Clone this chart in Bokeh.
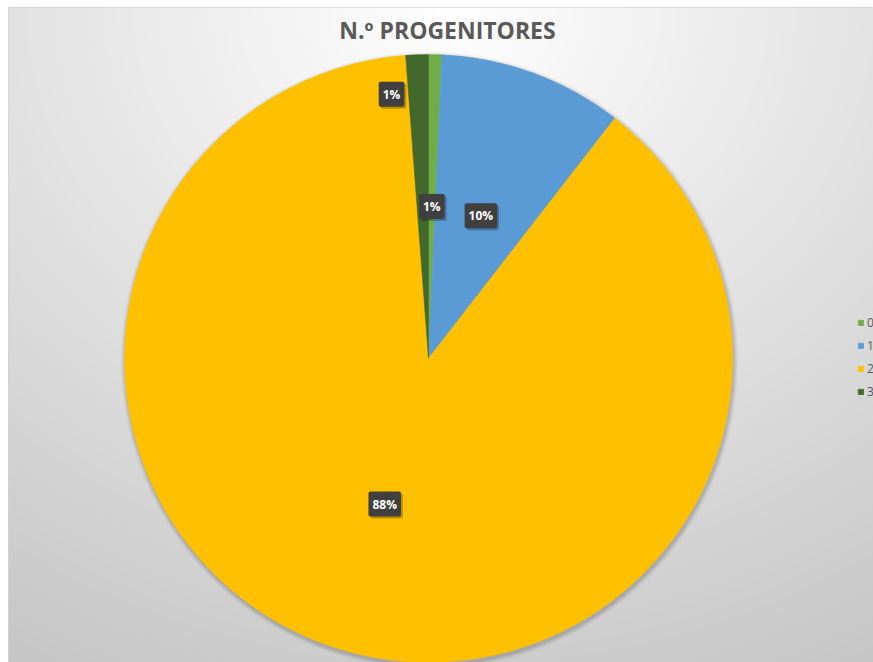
import numpy as np
from bokeh.plotting import figure
from bokeh.models import ColumnDataSource, Legend, LegendItem, Range1d
from bokeh.core.properties import value
from bokeh.embed import file_html
from bokeh.resources import INLINE

# ---- data ----
title = "N.º PROGENITORES"
categories = ["0", "1", "2", "3"]
shares = [0.7, 9.8, 88.3, 1.2]
colors = ["#70AD47", "#5B9BD5", "#FFC000", "#43682B"]

# ---- label placement (style) ----
label_r = [0.5, 0.5, 0.5, 0.87]
label_dx = [0, 0, 0, -27]

FW, FH = 865, 655          # frame (chart area) size
cx, cy, R = 420, 304, 304

p = figure(width=873, height=662, x_range=Range1d(0, FW), y_range=Range1d(0, FH),
           output_backend="svg", toolbar_location=None,
           min_border_left=8, min_border_top=7, min_border_right=0, min_border_bottom=0)
p.axis.visible = False
p.grid.visible = False
p.outline_line_color = "#d4d4d4"
p.background_fill_color = "#e0e0e0"
p.border_fill_color = "white"

# background gradient (decorative)
jj, ii = np.mgrid[0:FH, 0:FW]
sx = ii + 0.5
sy = FH - (jj + 0.5)
d = np.sqrt((0.066 * (sx - 442)) ** 2 + (0.076 * sy) ** 2)
g = np.clip(255 - d, 198, 255).astype(np.uint8)
img = np.empty((FH, FW), dtype=np.uint32)
view = img.view(dtype=np.uint8).reshape((FH, FW, 4))
view[..., 0] = g
view[..., 1] = g
view[..., 2] = g
view[..., 3] = 255
p.image_rgba(image=[img], x=0, y=0, dw=FW, dh=FH)

# soft shadow of the pie
for k, a in enumerate([0.05, 0.05, 0.04, 0.03, 0.02]):
    p.circle(x=cx + 1, y=cy - 2, radius=R + 1 + k, fill_color="black",
             fill_alpha=a, line_alpha=0)

vals = np.array(shares, dtype=float)
cum = np.concatenate([[0], np.cumsum(vals)]) / vals.sum()
start = np.pi / 2 - 2 * np.pi * cum[1:]
end = np.pi / 2 - 2 * np.pi * cum[:-1]
mid = (cum[:-1] + cum[1:]) / 2
ang = np.pi / 2 - 2 * np.pi * mid
pct = [f"{round(v / vals.sum() * 100):.0f}%" for v in vals]

src = ColumnDataSource(dict(cat=categories, start=start, end=end, color=colors))
wr = p.wedge(x=cx, y=cy, radius=R, start_angle="start", end_angle="end",
             fill_color="color", line_color="color", line_width=0.5, source=src)

lsrc = ColumnDataSource(dict(
    x=cx + np.array(label_r) * R * np.cos(ang) + np.array(label_dx),
    y=cy + np.array(label_r) * R * np.sin(ang),
    text=pct))
# label shadow
p.text(x="x", y="y", text="text", source=lsrc, x_offset=2, y_offset=2,
       text_font=value("Open Sans"), text_font_style="bold", text_font_size="12px",
       text_alpha=0, text_align="center", text_baseline="middle",
       background_fill_color="black", background_fill_alpha=0.25,
       padding=4, border_radius=2)
p.text(x="x", y="y", text="text", source=lsrc,
       text_font=value("Open Sans"), text_font_style="bold", text_font_size="12px",
       text_color="white", text_align="center", text_baseline="middle",
       background_fill_color="#404040", background_fill_alpha=1,
       padding=4, border_radius=2)

# title
p.text(x=[439], y=[633], text=[title], text_font=value("Open Sans"),
       text_font_style="bold", text_font_size="23px", text_color="#595959",
       text_align="center", text_baseline="alphabetic")

legend = Legend(items=[LegendItem(label=c, renderers=[wr], index=i)
                       for i, c in enumerate(categories)],
                location=(849, 261), padding=0, margin=0, spacing=3,
                glyph_width=7, glyph_height=7, label_height=20, label_standoff=3,
                label_text_font="Open Sans", label_text_font_size="12px",
                label_text_color="#595959", background_fill_alpha=0,
                border_line_alpha=0)
p.add_layout(legend)

open("out.html", "w").write(file_html(p, INLINE))
